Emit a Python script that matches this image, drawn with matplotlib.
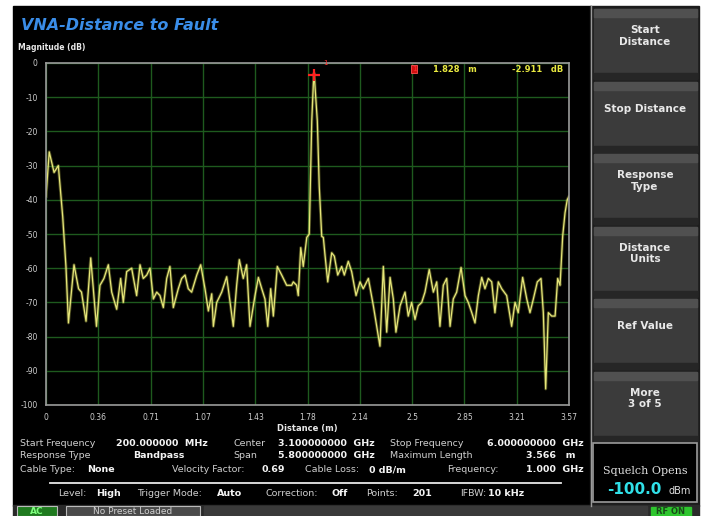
import matplotlib.pyplot as plt
from matplotlib.patches import Rectangle

plt.rcParams['axes.unicode_minus'] = False

# trace (distance in m, magnitude in dB)
distance = [0.000, 0.022, 0.055, 0.084, 0.114, 0.136, 0.153, 0.191, 0.222, 0.242,
            0.273, 0.305, 0.344, 0.368, 0.395, 0.425, 0.448, 0.482, 0.509, 0.527,
            0.550, 0.584, 0.618, 0.641, 0.663, 0.687, 0.709, 0.732, 0.755, 0.777,
            0.800, 0.823, 0.845, 0.868, 0.902, 0.925, 0.948, 0.970, 0.993, 1.028,
            1.055, 1.084, 1.107, 1.130, 1.141, 1.164, 1.198, 1.232, 1.255, 1.277,
            1.300, 1.318, 1.345, 1.368, 1.391, 1.425, 1.448, 1.471, 1.493, 1.512,
            1.532, 1.550, 1.577, 1.607, 1.641, 1.675, 1.686, 1.709, 1.720, 1.737,
            1.754, 1.778, 1.795, 1.812, 1.823, 1.828, 1.850, 1.863, 1.880, 1.891,
            1.902, 1.921, 1.948, 1.966, 1.989, 2.016, 2.034, 2.061, 2.084, 2.114,
            2.141, 2.163, 2.198, 2.232, 2.255, 2.277, 2.300, 2.323, 2.346, 2.368,
            2.386, 2.414, 2.448, 2.470, 2.493, 2.516, 2.538, 2.562, 2.584, 2.613,
            2.641, 2.664, 2.686, 2.709, 2.732, 2.755, 2.777, 2.800, 2.830, 2.857,
            2.879, 2.903, 2.925, 2.948, 2.971, 2.993, 3.016, 3.039, 3.061, 3.084,
            3.107, 3.141, 3.175, 3.198, 3.220, 3.250, 3.278, 3.300, 3.323, 3.350,
            3.375, 3.391, 3.407, 3.425, 3.448, 3.471, 3.489, 3.505, 3.523, 3.539,
            3.554, 3.566]
magnitude = [-39, -26, -32, -30, -45, -59.5, -76, -59, -66, -67,
             -75.5, -57, -77, -65, -63, -59, -67, -72, -63, -70,
             -61, -60, -68, -59, -63, -62, -60, -69, -67, -68,
             -71.5, -63, -59.5, -71.5, -66, -63, -62, -66, -67, -62,
             -59, -66, -72.5, -67.5, -77, -70, -67, -62.5, -70, -77,
             -65, -57.5, -63, -59, -77, -68, -62.7, -66, -69, -77,
             -66, -74, -59.5, -62, -65, -65, -64, -65, -68, -54,
             -59.5, -51, -50, -17, -6, -2.911, -17, -36, -50.7, -51,
             -56, -64, -55.5, -56.5, -62, -59.5, -62, -58, -61, -68,
             -64, -66, -63, -71, -77, -82.8, -59.5, -78.7, -62.7, -69,
             -78.7, -71, -67, -74, -70, -75, -71, -70, -67, -60.4,
             -67, -64, -77, -65, -63, -77, -69, -67, -59.8, -68,
             -70, -73, -76, -68, -62.7, -66, -63, -64, -73, -64,
             -66, -68, -77, -70, -73, -62.7, -69, -73, -69, -64,
             -63, -73, -95.3, -73, -74, -74, -63, -65, -50.6, -43.8,
             -40, -39]

xtick_labels = ["0", "0.36", "0.71", "1.07", "1.43", "1.78", "2.14", "2.5", "2.85", "3.21", "3.57"]
ytick_vals = [0, -10, -20, -30, -40, -50, -60, -70, -80, -90, -100]
max_length = 3.566
marker_x, marker_y = 1.828, -2.911

softkeys = ["Start\nDistance", "Stop Distance", "Response\nType", "Distance\nUnits",
            "Ref Value", "More\n3 of 5"]

W, H = 704, 516
fig = plt.figure(figsize=(W / 100, H / 100), dpi=100, facecolor="white")

# background layer in pixel coordinates
bg = fig.add_axes([0, 0, 1, 1])
bg.set_xlim(0, W)
bg.set_ylim(H, 0)
bg.axis("off")
bg.add_patch(Rectangle((13, 6), 578, 500, color="black"))
bg.add_patch(Rectangle((590, 6), 109, 500, color="#1c1c1c"))
bg.plot([591, 591], [6, 506], color="#9a9a9a", lw=1)

# softkey buttons
for i, lab in enumerate(softkeys):
    top = 9 + i * 72.5
    bg.add_patch(Rectangle((594, top), 103, 70, color="#3b3b3b"))
    bg.add_patch(Rectangle((594, top), 103, 8, color="#505050"))
    bg.add_patch(Rectangle((594, top + 64), 103, 6, color="#262626"))
    bg.text(645, top + 27, lab, color="#e8e8e8", fontsize=7.5, fontweight="bold",
            ha="center", va="center", linespacing=1.2)

# squelch box
bg.add_patch(Rectangle((593, 443), 104, 59, facecolor="black", edgecolor="#9a9a9a", lw=1.2))
bg.text(645, 471, "Squelch Opens", color="#e0e0e0", fontsize=8, ha="center", va="center",
        family="DejaVu Serif")
bg.text(634, 490, "-100.0", color="#30e0e8", fontsize=11, fontweight="bold", ha="center", va="center")
bg.text(680, 491, "dBm", color="#e0e0e0", fontsize=7, ha="center", va="center")

# status bar
bg.add_patch(Rectangle((13, 505), 686, 11, color="#2a2a2a"))
bg.add_patch(Rectangle((17, 506), 40, 10, facecolor="#1f7a1f", edgecolor="#bbbbbb", lw=0.8))
bg.text(37, 512, "AC", color="#7dff7d", fontsize=6.5, fontweight="bold", ha="center", va="center")
bg.add_patch(Rectangle((66, 506), 134, 10, facecolor="#4a4a4a", edgecolor="#bbbbbb", lw=0.8))
bg.text(133, 512, "No Preset Loaded", color="#d0d0d0", fontsize=6.5, ha="center", va="center")
bg.add_patch(Rectangle((204, 506), 443, 10, color="#3a3a3a"))
bg.add_patch(Rectangle((651, 507), 40, 9, color="#2ec52e"))
bg.text(671, 512, "RF ON", color="#1a4a1a", fontsize=6, fontweight="bold", ha="center", va="center")

# title
bg.text(21, 25, "VNA-Distance to Fault", color="#3a8de8", fontsize=11.5, fontweight="bold",
        fontstyle="italic", va="center")
bg.text(18, 48, "Magnitude (dB)", color="#e8e8e8", fontsize=5.5, fontweight="bold", va="center")

# info rows
lab_c, val_c = "#cfcfcf", "#f4f4f4"
fs = 6.8
rows = [
    (443, [(20, "Start Frequency", lab_c, "normal", "left"),
           (208, "200.000000  MHz", val_c, "bold", "right"),
           (233, "Center", lab_c, "normal", "left"),
           (375, "3.100000000  GHz", val_c, "bold", "right"),
           (390, "Stop Frequency", lab_c, "normal", "left"),
           (584, "6.000000000  GHz", val_c, "bold", "right")]),
    (456, [(20, "Response Type", lab_c, "normal", "left"),
           (133, "Bandpass", val_c, "bold", "left"),
           (233, "Span", lab_c, "normal", "left"),
           (375, "5.800000000  GHz", val_c, "bold", "right"),
           (390, "Maximum Length", lab_c, "normal", "left"),
           (575, "3.566   m", val_c, "bold", "right")]),
    (470, [(20, "Cable Type:", lab_c, "normal", "left"),
           (87, "None", val_c, "bold", "left"),
           (172, "Velocity Factor:", lab_c, "normal", "left"),
           (262, "0.69", val_c, "bold", "left"),
           (305, "Cable Loss:", lab_c, "normal", "left"),
           (369, "0 dB/m", val_c, "bold", "left"),
           (447, "Frequency:", lab_c, "normal", "left"),
           (584, "1.000  GHz", val_c, "bold", "right")]),
    (494, [(58, "Level:", lab_c, "normal", "left"),
           (96, "High", val_c, "bold", "left"),
           (137, "Trigger Mode:", lab_c, "normal", "left"),
           (217, "Auto", val_c, "bold", "left"),
           (266, "Correction:", lab_c, "normal", "left"),
           (332, "Off", val_c, "bold", "left"),
           (366, "Points:", lab_c, "normal", "left"),
           (412, "201", val_c, "bold", "left"),
           (460, "IFBW:", lab_c, "normal", "left"),
           (488, "10 kHz", val_c, "bold", "left")]),
]
for y, items in rows:
    for x, s, c, w, ha in items:
        bg.text(x, y, s, color=c, fontsize=fs, fontweight=w, ha=ha, va="center")
bg.plot([50, 561], [483, 483], color="#e8e8e8", lw=1.3)

# main trace axes
ax = fig.add_axes([46 / W, 1 - 405 / H, 523 / W, 342 / H])
ax.set_facecolor("black")
ax.plot(distance, magnitude, color="#c8c850", lw=2.2, alpha=0.35)
ax.plot(distance, magnitude, color="#e6e67a", lw=0.9)
ax.set_xlim(0, max_length)
ax.set_ylim(-100, 0)
ax.set_xticks([i * max_length / 10 for i in range(11)])
ax.set_xticklabels(xtick_labels)
ax.set_yticks(ytick_vals)
ax.grid(True, color="#1e5a1e", lw=1)
ax.tick_params(colors="#cfcfcf", labelsize=5.5, length=0, pad=6)
for s in ax.spines.values():
    s.set_color("#9a9a9a")
    s.set_linewidth(1.2)
ax.set_xlabel("Distance (m)", color="#e8e8e8", fontsize=6, fontweight="bold", labelpad=1)

# marker
ax.plot(marker_x, marker_y - 0.5, marker="+", color="#ff2020", ms=9, mew=1.6)
ax.text(marker_x + 0.06, -0.5, "1", color="#ff3030", fontsize=5)
ax.text(2.509, -1.8, "1", color="#ff3030", fontsize=5, ha="center", va="center",
        bbox=dict(boxstyle="square,pad=0.15", fc="#d01010", ec="#ff5050", lw=0.6))
ax.text(2.94, -1.8, "%.3f   m" % marker_x, color="#e8e840", fontsize=6, fontweight="bold",
        ha="right", va="center")
ax.text(3.53, -1.8, "%.3f   dB" % marker_y, color="#e8e840", fontsize=6, fontweight="bold",
        ha="right", va="center")

fig.savefig("out.png", dpi=100, facecolor="white")
